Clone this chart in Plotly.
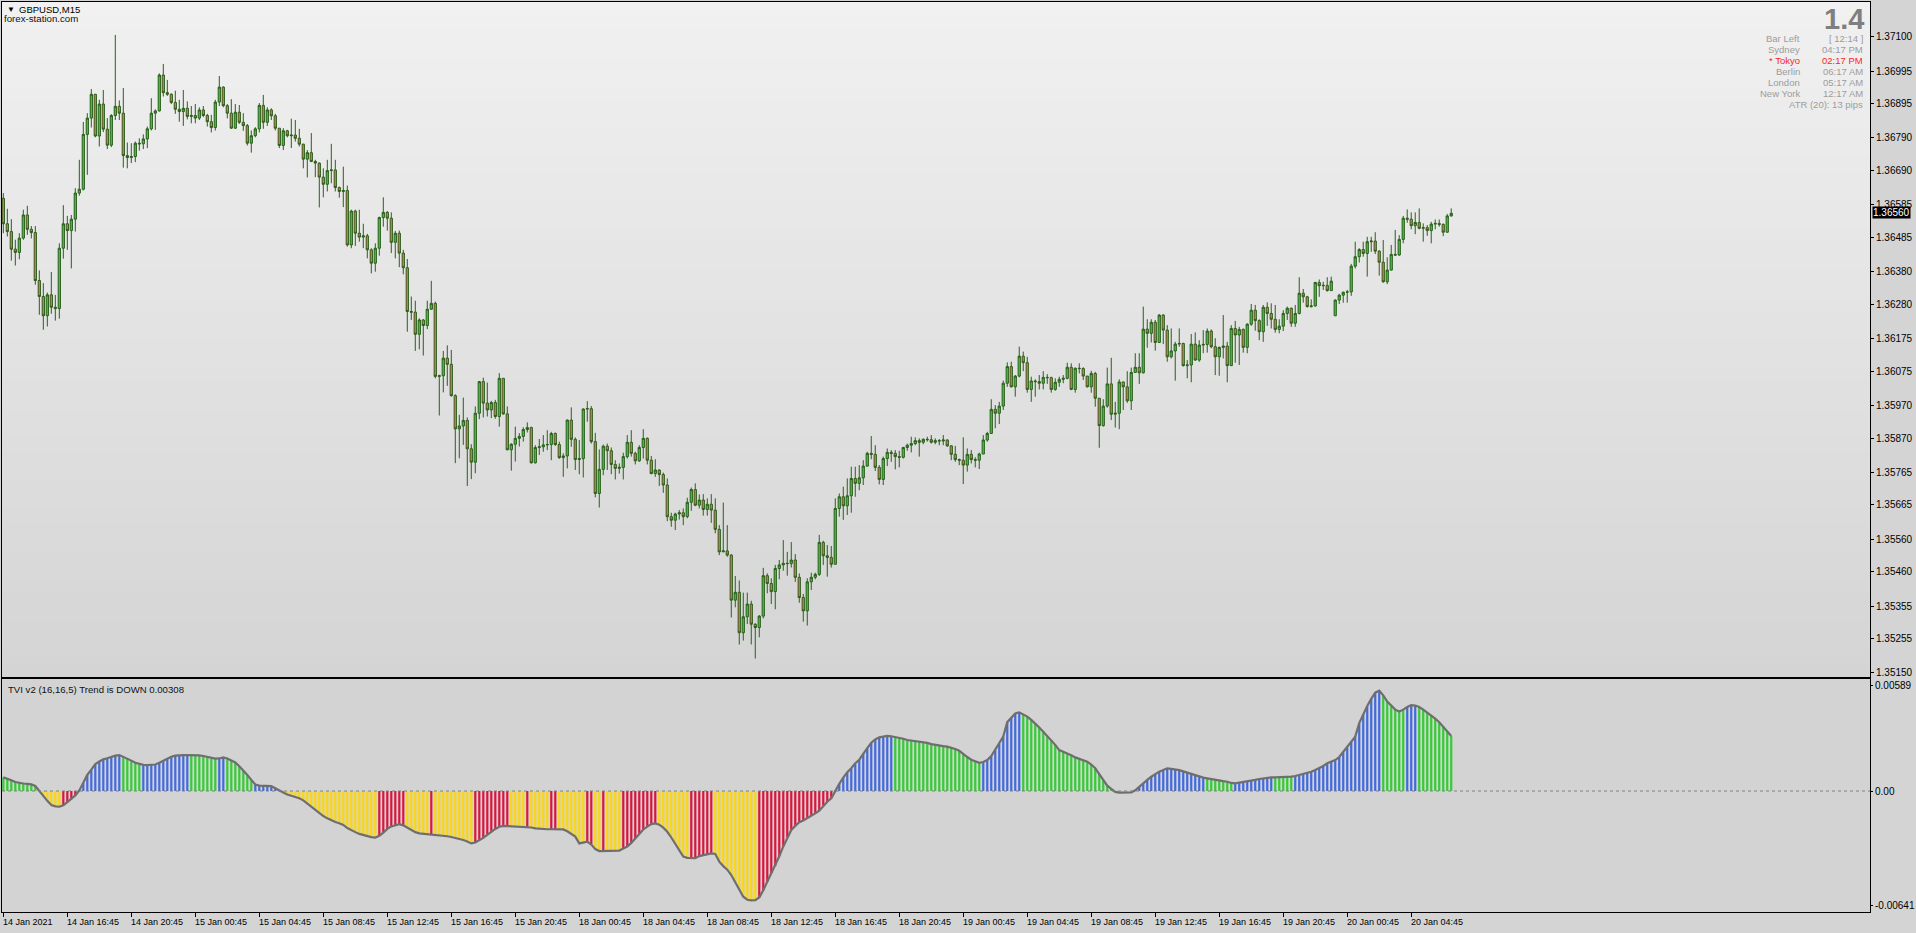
import plotly.graph_objects as go

# ---------------- DATA ----------------
# GBPUSD M15 candles, prices in 1e-5 units
FIRST_OPEN = 136605
GAP_OPENS = {333: 136245}

CLOSES = [
    136527, 136503, 136449, 136439, 136483, 136554, 136510, 136500, 136353, 136304,
    136245, 136309, 136271, 136267, 136452, 136527, 136506, 136541, 136621, 136633,
    136801, 136851, 136924, 136796, 136894, 136817, 136768, 136859, 136887, 136866,
    136736, 136730, 136733, 136774, 136772, 136787, 136818, 136866, 136873, 136983,
    136929, 136924, 136899, 136878, 136871, 136881, 136856, 136859, 136851, 136876,
    136859, 136840, 136822, 136900, 136946, 136889, 136866, 136820, 136869, 136838,
    136828, 136774, 136797, 136818, 136890, 136838, 136876, 136858, 136820, 136767,
    136812, 136797, 136799, 136789, 136771, 136725, 136745, 136718, 136713, 136670,
    136648, 136690, 136692, 136638, 136626, 136629, 136462, 136566, 136498, 136486,
    136490, 136447, 136406, 136452, 136546, 136562, 136544, 136470, 136498, 136437,
    136392, 136258, 136256, 136188, 136232, 136215, 136265, 136283, 136059, 136061,
    136115, 136096, 136000, 135898, 135907, 135924, 135837, 135796, 135946, 136043,
    135977, 135956, 135979, 135936, 136053, 135944, 135834, 135851, 135869, 135875,
    135896, 135902, 135794, 135841, 135843, 135849, 135850, 135884, 135850, 135810,
    135815, 135925, 135866, 135804, 135807, 135959, 135960, 135859, 135700, 135774,
    135845, 135831, 135789, 135777, 135780, 135813, 135857, 135823, 135800, 135841,
    135869, 135802, 135761, 135772, 135758, 135726, 135629, 135618, 135637, 135641,
    135629, 135673, 135712, 135664, 135680, 135651, 135667, 135649, 135590, 135521,
    135524, 135511, 135373, 135397, 135273, 135322, 135361, 135299, 135289, 135324,
    135448, 135424, 135399, 135470, 135481, 135486, 135485, 135496, 135443, 135381,
    135340, 135429, 135443, 135452, 135550, 135509, 135504, 135483, 135654, 135690,
    135662, 135693, 135746, 135731, 135748, 135784, 135823, 135820, 135780, 135743,
    135807, 135826, 135823, 135813, 135811, 135841, 135848, 135853, 135862, 135857,
    135866, 135865, 135857, 135862, 135861, 135864, 135846, 135820, 135804, 135802,
    135787, 135820, 135804, 135802, 135821, 135864, 135884, 135958, 135946, 135968,
    136038, 136089, 136027, 136060, 136121, 136101, 136019, 136045, 136043, 136038,
    136056, 136055, 136019, 136041, 136050, 136053, 136087, 136019, 136084, 136083,
    136060, 136027, 136068, 135992, 135908, 135968, 136036, 135943, 135946, 136042,
    136027, 135984, 136071, 136087, 136070, 136204, 136191, 136225, 136163, 136247,
    136201, 136119, 136137, 136158, 136160, 136092, 136094, 136158, 136109, 136155,
    136157, 136198, 136150, 136119, 136148, 136152, 136092, 136206, 136186, 136203,
    136148, 136219, 136262, 136230, 136196, 136271, 136252, 136234, 136203, 136213,
    136252, 136268, 136222, 136252, 136314, 136303, 136273, 136275, 136347, 136337,
    136338, 136322, 136351, 136293, 136308, 136317, 136318, 136397, 136426, 136448,
    136436, 136472, 136474, 136443, 136409, 136349, 136385, 136433, 136431, 136479,
    136544, 136541, 136521, 136531, 136513, 136515, 136506, 136526, 136528, 136525,
    136501, 136551, 136559,
]

HIGHS = [
    136621, 136573, 136541, 136478, 136498, 136570, 136582, 136520, 136520, 136384,
    136345, 136316, 136379, 136309, 136467, 136584, 136551, 136554, 136636, 136723,
    136839, 136866, 136940, 136925, 136907, 136937, 136851, 136863, 137106, 136905,
    136943, 136776, 136774, 136779, 136789, 136801, 136825, 136912, 136878, 136988,
    137017, 136968, 136927, 136935, 136907, 136937, 136902, 136888, 136894, 136884,
    136888, 136864, 136861, 136907, 136980, 136948, 136894, 136909, 136894, 136891,
    136866, 136833, 136813, 136823, 136897, 136922, 136884, 136881, 136864, 136820,
    136820, 136815, 136849, 136845, 136818, 136772, 136753, 136805, 136723, 136715,
    136697, 136723, 136772, 136723, 136641, 136702, 136644, 136570, 136570, 136570,
    136527, 136496, 136452, 136467, 136549, 136608, 136566, 136562, 136505, 136506,
    136447, 136419, 136304, 136291, 136237, 136235, 136291, 136352, 136288, 136064,
    136137, 136154, 136140, 136004, 135941, 135994, 135933, 135851, 135967, 136045,
    136055, 136040, 135984, 135987, 136069, 136053, 135967, 135854, 135905, 135885,
    135903, 135918, 135905, 135848, 135867, 135879, 135894, 135889, 135887, 135859,
    135823, 135927, 135964, 135872, 135864, 135961, 135983, 135968, 135886, 135835,
    135850, 135853, 135841, 135802, 135792, 135825, 135879, 135894, 135828, 135848,
    135897, 135872, 135815, 135805, 135774, 135764, 135746, 135641, 135641, 135649,
    135654, 135687, 135718, 135731, 135697, 135698, 135685, 135698, 135685, 135603,
    135672, 135603, 135514, 135447, 135433, 135396, 135396, 135371, 135302, 135327,
    135472, 135455, 135440, 135481, 135496, 135557, 135521, 135551, 135514, 135455,
    135392, 135440, 135457, 135457, 135573, 135555, 135542, 135539, 135685, 135700,
    135721, 135746, 135782, 135782, 135787, 135802, 135828, 135876, 135848, 135787,
    135813, 135838, 135833, 135833, 135831, 135843, 135853, 135874, 135872, 135869,
    135869, 135874, 135879, 135869, 135867, 135879, 135866, 135848, 135846, 135807,
    135872, 135838, 135833, 135811, 135825, 135879, 135889, 135989, 135971, 135981,
    136046, 136102, 136104, 136063, 136150, 136135, 136119, 136058, 136050, 136063,
    136075, 136066, 136058, 136053, 136058, 136063, 136101, 136099, 136086, 136099,
    136087, 136060, 136076, 136073, 135992, 135989, 136086, 136116, 135981, 136050,
    136040, 136075, 136086, 136130, 136130, 136273, 136234, 136234, 136232, 136250,
    136250, 136216, 136206, 136165, 136206, 136162, 136109, 136189, 136194, 136170,
    136201, 136206, 136203, 136176, 136150, 136247, 136165, 136216, 136229, 136211,
    136206, 136222, 136281, 136278, 136234, 136278, 136286, 136283, 136278, 136234,
    136262, 136273, 136270, 136278, 136363, 136327, 136306, 136295, 136349, 136356,
    136349, 136363, 136365, 136295, 136312, 136319, 136324, 136404, 136472, 136452,
    136472, 136487, 136487, 136501, 136446, 136477, 136424, 136462, 136508, 136492,
    136551, 136571, 136562, 136562, 136574, 136528, 136523, 136533, 136540, 136540,
    136528, 136557, 136574,
]

LOWS = [
    136498, 136488, 136414, 136399, 136418, 136478, 136493, 136482, 136340, 136248,
    136202, 136212, 136251, 136230, 136236, 136420, 136447, 136390, 136503, 136613,
    136629, 136677, 136822, 136792, 136764, 136808, 136756, 136762, 136845, 136845,
    136699, 136697, 136713, 136716, 136751, 136756, 136759, 136813, 136815, 136871,
    136917, 136919, 136894, 136864, 136840, 136827, 136847, 136835, 136835, 136845,
    136854, 136825, 136807, 136813, 136888, 136884, 136850, 136818, 136818, 136833,
    136812, 136767, 136745, 136792, 136807, 136818, 136827, 136845, 136813, 136759,
    136753, 136792, 136759, 136779, 136764, 136697, 136669, 136716, 136670, 136577,
    136608, 136626, 136651, 136626, 136607, 136578, 136457, 136452, 136459, 136472,
    136452, 136421, 136375, 136380, 136429, 136518, 136506, 136437, 136421, 136394,
    136372, 136196, 136232, 136137, 136142, 136123, 136204, 136263, 136053, 135939,
    136010, 136030, 135997, 135793, 135808, 135849, 135723, 135744, 135762, 135928,
    135933, 135936, 135931, 135929, 135905, 135941, 135832, 135770, 135798, 135844,
    135859, 135887, 135792, 135792, 135818, 135828, 135833, 135802, 135846, 135806,
    135751, 135777, 135843, 135772, 135759, 135749, 135920, 135853, 135688, 135657,
    135756, 135772, 135759, 135743, 135761, 135743, 135807, 135813, 135789, 135797,
    135807, 135789, 135759, 135751, 135723, 135702, 135615, 135598, 135588, 135620,
    135603, 135624, 135647, 135661, 135654, 135632, 135632, 135610, 135578, 135511,
    135521, 135506, 135320, 135351, 135237, 135249, 135300, 135237, 135194, 135259,
    135317, 135394, 135361, 135345, 135437, 135463, 135448, 135473, 135429, 135365,
    135307, 135295, 135404, 135437, 135447, 135481, 135445, 135473, 135483, 135629,
    135619, 135634, 135641, 135690, 135710, 135726, 135782, 135805, 135769, 135728,
    135726, 135784, 135797, 135774, 135780, 135807, 135831, 135826, 135848, 135813,
    135851, 135859, 135853, 135851, 135848, 135848, 135843, 135802, 135797, 135787,
    135729, 135767, 135792, 135780, 135775, 135821, 135859, 135886, 135900, 135913,
    135956, 136027, 136025, 135997, 136056, 136075, 136009, 135981, 135997, 136019,
    136019, 136036, 136009, 136015, 136027, 136038, 136050, 136017, 136009, 136068,
    136048, 136025, 136009, 135966, 135840, 135905, 135963, 135925, 135902, 135897,
    135956, 135978, 135956, 136070, 136036, 136068, 136147, 136163, 136138, 136162,
    136158, 136104, 136114, 136046, 136150, 136089, 136053, 136041, 136107, 136104,
    136130, 136132, 136145, 136063, 136061, 136114, 136041, 136094, 136101, 136094,
    136132, 136130, 136214, 136199, 136170, 136165, 136214, 136206, 136193, 136191,
    136198, 136232, 136211, 136211, 136249, 136285, 136270, 136270, 136273, 136303,
    136324, 136319, 136321, 136244, 136281, 136285, 136285, 136306, 136390, 136408,
    136426, 136365, 136441, 136434, 136368, 136346, 136342, 136383, 136428, 136429,
    136467, 136530, 136510, 136495, 136510, 136472, 136490, 136467, 136510, 136518,
    136489, 136500, 136549,
]

# TVI v2 indicator values (1e-5 units)
TVI = [
    76, 70, 60, 50, 45, 42, 40, 37, 28, -2,
    -28, -55, -78, -86, -88, -80, -62, -46, -25, 3,
    45, 90, 120, 150, 165, 177, 183, 192, 198, 201,
    192, 182, 170, 158, 150, 146, 145, 145, 148, 158,
    170, 183, 192, 198, 201, 201, 201, 201, 201, 199,
    196, 190, 183, 181, 182, 188, 182, 172, 160, 138,
    115, 90, 62, 36, 30, 28, 28, 27, 15, 5,
    -8, -20, -26, -32, -40, -52, -70, -88, -105, -122,
    -140, -153, -165, -173, -180, -190, -207, -220, -230, -240,
    -247, -253, -258, -261, -250, -233, -212, -198, -190, -185,
    -192, -205, -218, -230, -237, -239, -240, -242, -243, -245,
    -248, -253, -257, -262, -268, -274, -282, -293, -288, -276,
    -262, -245, -228, -212, -200, -195, -196, -197, -199, -199,
    -199, -200, -204, -209, -212, -214, -214, -214, -214, -214,
    -215, -225, -240, -255, -293, -290, -283, -300, -325, -336,
    -336, -336, -336, -336, -333, -322, -311, -290, -265, -240,
    -215, -199, -185, -181, -188, -205, -228, -260, -295, -330,
    -367, -374, -376, -376, -364, -358, -352, -349, -352, -395,
    -420, -440, -470, -510, -550, -591, -608, -612, -610, -595,
    -555, -508, -460, -420, -365, -310, -260, -218, -195, -175,
    -165, -153, -140, -125, -110, -82, -60, -41, 2, 40,
    75, 105, 127, 155, 175, 210, 240, 270, 288, 300,
    305, 308, 306, 302, 298, 292, 285, 282, 278, 275,
    272, 269, 262, 257, 254, 251, 248, 242, 235, 225,
    205, 190, 175, 165, 158, 162, 173, 195, 229, 265,
    304, 385, 410, 434, 440, 430, 416, 398, 378, 355,
    332, 308, 285, 258, 229, 220, 211, 200, 188, 180,
    172, 164, 148, 127, 95, 62, 30, 12, -5, -9,
    -9, -9, -8, 4, 25, 43, 62, 80, 95, 108,
    118, 127, 124, 121, 117, 110, 103, 95, 88, 80,
    75, 71, 66, 62, 58, 55, 52, 45, 43, 46,
    50, 52, 58, 62, 67, 71, 74, 76, 76, 76,
    76, 76, 80, 84, 90, 95, 102, 108, 118, 128,
    140, 155, 165, 173, 190, 220, 245, 275, 304, 380,
    430, 475, 515, 550, 561, 535, 500, 480, 455, 445,
    455, 470, 480, 478, 470, 455, 440, 425, 405, 385,
    360, 335, 308,
]

# colour state of each histogram bar, as runs (G=up/falling, B=up/rising, Y=down/falling, R=down/rising)
TVI_COLOR_RUNS = [
    ("G", 9), ("Y", 6), ("R", 4), ("B", 11), ("G", 5), ("B", 12), ("G", 7), ("B", 2),
    ("G", 7), ("B", 7), ("Y", 24), ("R", 7), ("Y", 6), ("R", 1), ("Y", 10), ("R", 9),
    ("Y", 4), ("R", 1), ("Y", 5), ("R", 2), ("Y", 7), ("R", 2), ("Y", 2), ("R", 1),
    ("Y", 4), ("R", 9), ("Y", 8), ("R", 6), ("Y", 11), ("R", 19), ("B", 15), ("G", 22),
    ("B", 10), ("G", 23), ("Y", 5), ("B", 18), ("G", 7), ("B", 10), ("G", 5), ("B", 22),
    ("G", 6), ("B", 3), ("G", 9),
]

TIME_LABELS = [
    "14 Jan 2021", "14 Jan 16:45", "14 Jan 20:45", "15 Jan 00:45", "15 Jan 04:45",
    "15 Jan 08:45", "15 Jan 12:45", "15 Jan 16:45", "15 Jan 20:45", "18 Jan 00:45",
    "18 Jan 04:45", "18 Jan 08:45", "18 Jan 12:45", "18 Jan 16:45", "18 Jan 20:45",
    "19 Jan 00:45", "19 Jan 04:45", "19 Jan 08:45", "19 Jan 12:45", "19 Jan 16:45",
    "19 Jan 20:45", "20 Jan 00:45", "20 Jan 04:45",
]
BARS_PER_LABEL = 16

PRICE_TICKS = [1.37100, 1.36995, 1.36895, 1.36790, 1.36690, 1.36585, 1.36485, 1.36380,
               1.36280, 1.36175, 1.36075, 1.35970, 1.35870, 1.35765, 1.35665, 1.35560,
               1.35460, 1.35355, 1.35255, 1.35150]
CURRENT_PRICE = 1.36560
TVI_TICKS = [0.00589, 0.0, -0.00641]
TVI_TICK_TEXT = ["0.00589", "0.00", "-0.00641"]

INFO_ROWS = [("Bar Left", "[ 12:14 ]", False), ("Sydney", "04:17 PM", False),
             ("* Tokyo", "02:17 PM", True), ("Berlin", "06:17 AM", False),
             ("London", "05:17 AM", False), ("New York", "12:17 AM", False)]
ATR_TEXT = "ATR (20): 13 pips"
SPREAD_TEXT = "1.4"

# ---------------- BUILD ----------------
n = len(CLOSES)
assert len(HIGHS) == n and len(LOWS) == n and len(TVI) == n, (len(HIGHS), len(LOWS), len(TVI))
assert sum(c for _, c in TVI_COLOR_RUNS) == n

idx = list(range(n))
closes = [c / 1e5 for c in CLOSES]
opens = []
for i in range(n):
    if i in GAP_OPENS:
        opens.append(GAP_OPENS[i] / 1e5)
    elif i == 0:
        opens.append(FIRST_OPEN / 1e5)
    else:
        opens.append(closes[i - 1])
highs = [max(h / 1e5, o, c) for h, o, c in zip(HIGHS, opens, closes)]
lows = [min(l / 1e5, o, c) for l, o, c in zip(LOWS, opens, closes)]

tvi = [v / 1e5 for v in TVI]
COLMAP = {"G": "#32CD32", "B": "#4169E1", "Y": "#FFD700", "R": "#DC143C"}
bar_colors = []
for code, cnt in TVI_COLOR_RUNS:
    bar_colors += [COLMAP[code]] * cnt

W, H = 1916, 933
PX_LEFT, PX_RIGHT = 2, 1870
MAIN_TOP, MAIN_BOT = 2, 677
SUB_TOP, SUB_BOT = 679, 912
XD = [PX_LEFT / W, PX_RIGHT / W]
YD_MAIN = [1 - MAIN_BOT / H, 1 - MAIN_TOP / H]
YD_SUB = [1 - SUB_BOT / H, 1 - SUB_TOP / H]
X_RANGE = [-0.33, 466.7]
P_RANGE = [1.351373, 1.372069]
T_RANGE = [-0.006767, 0.006264]

SANS = "Liberation Sans, Arial, sans-serif"
AXFONT = dict(family=SANS, size=10, color="#000000")

fig = go.Figure()
fig.add_trace(go.Candlestick(
    x=idx, open=opens, high=highs, low=lows, close=closes,
    increasing=dict(line=dict(color="#2B5E1C", width=1), fillcolor="#3CC83C"),
    decreasing=dict(line=dict(color="#2B5E1C", width=1), fillcolor="#E2774F"),
    whiskerwidth=0, xaxis="x", yaxis="y", hoverinfo="skip", showlegend=False))
fig.add_trace(go.Bar(
    x=idx, y=tvi, marker=dict(color=bar_colors, line=dict(width=0)), width=0.55,
    xaxis="x2", yaxis="y2", hoverinfo="skip", showlegend=False))
fig.add_trace(go.Scatter(
    x=idx, y=tvi, mode="lines", line=dict(color="#6E6E6E", width=2.2),
    xaxis="x2", yaxis="y2", hoverinfo="skip", showlegend=False))

# vertical background gradient of the price window (overlapping bands, no seams)
shapes = []
NB = 48
for k in range(NB):
    t = (k + 0.5) / NB
    c = round(241 - (241 - 212) * t)
    y_hi = 1 - k / NB
    y_lo = max(0.0, 1 - (k + 1) / NB - 0.012)
    shapes.append(dict(type="rect", xref="x domain", yref="y domain", x0=0, x1=1,
                       y0=y_lo, y1=y_hi, layer="below",
                       fillcolor=f"rgb({c},{c},{c})", line=dict(width=0)))
shapes.append(dict(type="line", xref="x2 domain", yref="y2", x0=0, x1=1, y0=0, y1=0,
                   layer="above", line=dict(color="#808080", width=1, dash="3px,3px")))

ann = []
ann.append(dict(xref="paper", yref="paper", x=5 / W, y=1 - 10 / H, text="▼", showarrow=False,
                xanchor="left", yanchor="middle", font=dict(family=SANS, size=8, color="#000")))
ann.append(dict(xref="paper", yref="paper", x=17 / W, y=1 - 10 / H, text="GBPUSD,M15", showarrow=False,
                xanchor="left", yanchor="middle", font=dict(family=SANS, size=9.5, color="#000")))
ann.append(dict(xref="paper", yref="paper", x=2 / W, y=1 - 19 / H, text="forex-station.com", showarrow=False,
                xanchor="left", yanchor="middle", font=dict(family=SANS, size=9.7, color="#111")))
ann.append(dict(xref="paper", yref="paper", x=6 / W, y=1 - 689 / H,
                text="TVI v2 (16,16,5) Trend is DOWN 0.00308", showarrow=False,
                xanchor="left", yanchor="middle", font=dict(family=SANS, size=9.6, color="#111")))
ann.append(dict(xref="paper", yref="paper", x=1866 / W, y=1 - 19 / H, text="<b>" + SPREAD_TEXT + "</b>",
                showarrow=False, xanchor="right", yanchor="middle",
                font=dict(family=SANS, size=29, color="#7F7F7F")))
for r, (lab, val, hot) in enumerate(INFO_ROWS):
    yy = 1 - (38.5 + 11 * r) / H
    col = "#FF1E1E" if hot else "#9C9C9C"
    ann.append(dict(xref="paper", yref="paper", x=1802 / W, y=yy, text=lab, showarrow=False,
                    xanchor="right", yanchor="middle", font=dict(family=SANS, size=9.5, color=col)))
    ann.append(dict(xref="paper", yref="paper", x=1865 / W, y=yy, text=val, showarrow=False,
                    xanchor="right", yanchor="middle", font=dict(family=SANS, size=9.5, color=col)))
ann.append(dict(xref="paper", yref="paper", x=1865 / W, y=1 - 104.5 / H, text=ATR_TEXT, showarrow=False,
                xanchor="right", yanchor="middle", font=dict(family=SANS, size=9.5, color="#9C9C9C")))
for k, lab in enumerate(TIME_LABELS):
    ann.append(dict(xref="x2", yref="paper", x=k * BARS_PER_LABEL, y=1 - 921.5 / H, text=lab,
                    showarrow=False, xanchor="left", yanchor="middle", xshift=-2,
                    font=dict(family=SANS, size=9, color="#000")))
ann.append(dict(xref="paper", yref="y", x=1872 / W, y=CURRENT_PRICE, text="1.36560", showarrow=False,
                xanchor="left", yanchor="middle", bgcolor="#000000", borderpad=0,
                font=dict(family=SANS, size=10, color="#FFFFFF")))

axis_common = dict(showgrid=False, zeroline=False, showline=True, mirror=True,
                   linecolor="#000000", linewidth=1, automargin=False, fixedrange=True)

fig.update_layout(
    template="none",
    width=W, height=H, margin=dict(l=0, r=0, t=0, b=0),
    paper_bgcolor="#D4D4D4", plot_bgcolor="#D3D3D3",
    showlegend=False, hovermode=False, boxgap=0.2,
    font=dict(family=SANS, size=10, color="#000"),
    xaxis=dict(domain=XD, range=X_RANGE, anchor="y", showticklabels=False, ticks="",
               rangeslider=dict(visible=False), **axis_common),
    yaxis=dict(domain=YD_MAIN, range=P_RANGE, anchor="x", side="right",
               tickvals=PRICE_TICKS, ticktext=[f"{v:.5f}" for v in PRICE_TICKS],
               ticks="outside", ticklen=3, tickcolor="#000", tickfont=AXFONT, **axis_common),
    xaxis2=dict(domain=XD, range=X_RANGE, anchor="y2", showticklabels=False, ticks="outside",
                ticklen=4, tickcolor="#000",
                tickvals=[k * BARS_PER_LABEL for k in range(len(TIME_LABELS))], **axis_common),
    yaxis2=dict(domain=YD_SUB, range=T_RANGE, anchor="x2", side="right",
                tickvals=TVI_TICKS, ticktext=TVI_TICK_TEXT, ticks="outside", ticklen=2,
                tickcolor="#000", tickfont=AXFONT, **axis_common),
    shapes=shapes, annotations=ann,
)

fig.write_html(
    "out.html",
    config={"displayModeBar": False, "staticPlot": True},
    post_script="document.body.style.margin='0';document.body.style.padding='0';"
                "document.body.style.overflow='hidden';",
)
